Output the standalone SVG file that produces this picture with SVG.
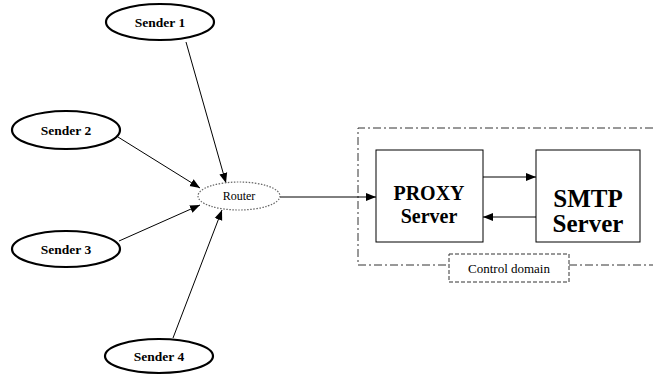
<svg xmlns="http://www.w3.org/2000/svg" width="653" height="375" viewBox="0 0 653 375">
<style>
.sender{fill:#fff;stroke:#000;stroke-width:2.2}
.lbl{font-family:"Liberation Serif",serif;font-weight:bold;font-size:13.5px;text-anchor:middle;fill:#000}
.box{fill:#fff;stroke:#000;stroke-width:1}
.big{font-family:"Liberation Serif",serif;font-weight:bold;text-anchor:middle;fill:#000}
.conn{stroke:#000;stroke-width:1;fill:none}
</style>
<defs>
<marker id="ah" viewBox="0 0 10 10" refX="10" refY="5" markerWidth="10" markerHeight="10" markerUnits="userSpaceOnUse" orient="auto">
<path d="M0,1 L10,5 L0,9 Z" fill="#000"/>
</marker>
</defs>
<rect width="653" height="375" fill="#fff"/>
<g id="control-domain">
<path d="M653,128 H358 V265 H449 M569,265 H653" fill="none" stroke="#333" stroke-width="1" stroke-dasharray="8,3,2,3"/>
<rect x="449" y="254" width="120" height="28" fill="#fff" stroke="#333" stroke-width="1" stroke-dasharray="4,2"/>
<text x="509" y="273" font-family="Liberation Serif,serif" font-size="13" text-anchor="middle">Control domain</text>
</g>
<g id="connectors">
<line class="conn" x1="186" y1="42" x2="226" y2="183" marker-end="url(#ah)"/>
<line class="conn" x1="118" y1="137" x2="200" y2="188" marker-end="url(#ah)"/>
<line class="conn" x1="119" y1="241" x2="200" y2="205" marker-end="url(#ah)"/>
<line class="conn" x1="173" y1="338" x2="222" y2="210" marker-end="url(#ah)"/>
<line class="conn" x1="280" y1="197" x2="376" y2="197" marker-end="url(#ah)"/>
<line class="conn" x1="483" y1="177" x2="536" y2="177" marker-end="url(#ah)"/>
<line class="conn" x1="536" y1="217" x2="483" y2="217" marker-end="url(#ah)"/>
</g>
<g id="sender1">
<ellipse class="sender" cx="160" cy="22" rx="54" ry="18"/>
<text class="lbl" x="160" y="27">Sender 1</text>
</g>
<g id="sender2">
<ellipse class="sender" cx="66" cy="130" rx="54" ry="19"/>
<text class="lbl" x="66" y="135">Sender 2</text>
</g>
<g id="sender3">
<ellipse class="sender" cx="66" cy="249" rx="54" ry="18"/>
<text class="lbl" x="66" y="254">Sender 3</text>
</g>
<g id="sender4">
<ellipse class="sender" cx="159" cy="356" rx="54" ry="17"/>
<text class="lbl" x="159" y="361">Sender 4</text>
</g>
<g id="router">
<ellipse cx="239" cy="196" rx="41" ry="14" fill="#fff" stroke="#666" stroke-width="1.2" stroke-dasharray="1.5,1.5"/>
<text x="239" y="200" font-family="Liberation Serif,serif" font-size="12" text-anchor="middle">Router</text>
</g>
<g id="proxy">
<rect class="box" x="376" y="150" width="107" height="92"/>
<text class="big" x="429" y="200" font-size="20">PROXY</text>
<text class="big" x="429" y="223" font-size="20">Server</text>
</g>
<g id="smtp">
<rect class="box" x="536" y="150" width="104" height="92"/>
<text class="big" x="588" y="207" font-size="25">SMTP</text>
<text class="big" x="588" y="232" font-size="25">Server</text>
</g>
</svg>
